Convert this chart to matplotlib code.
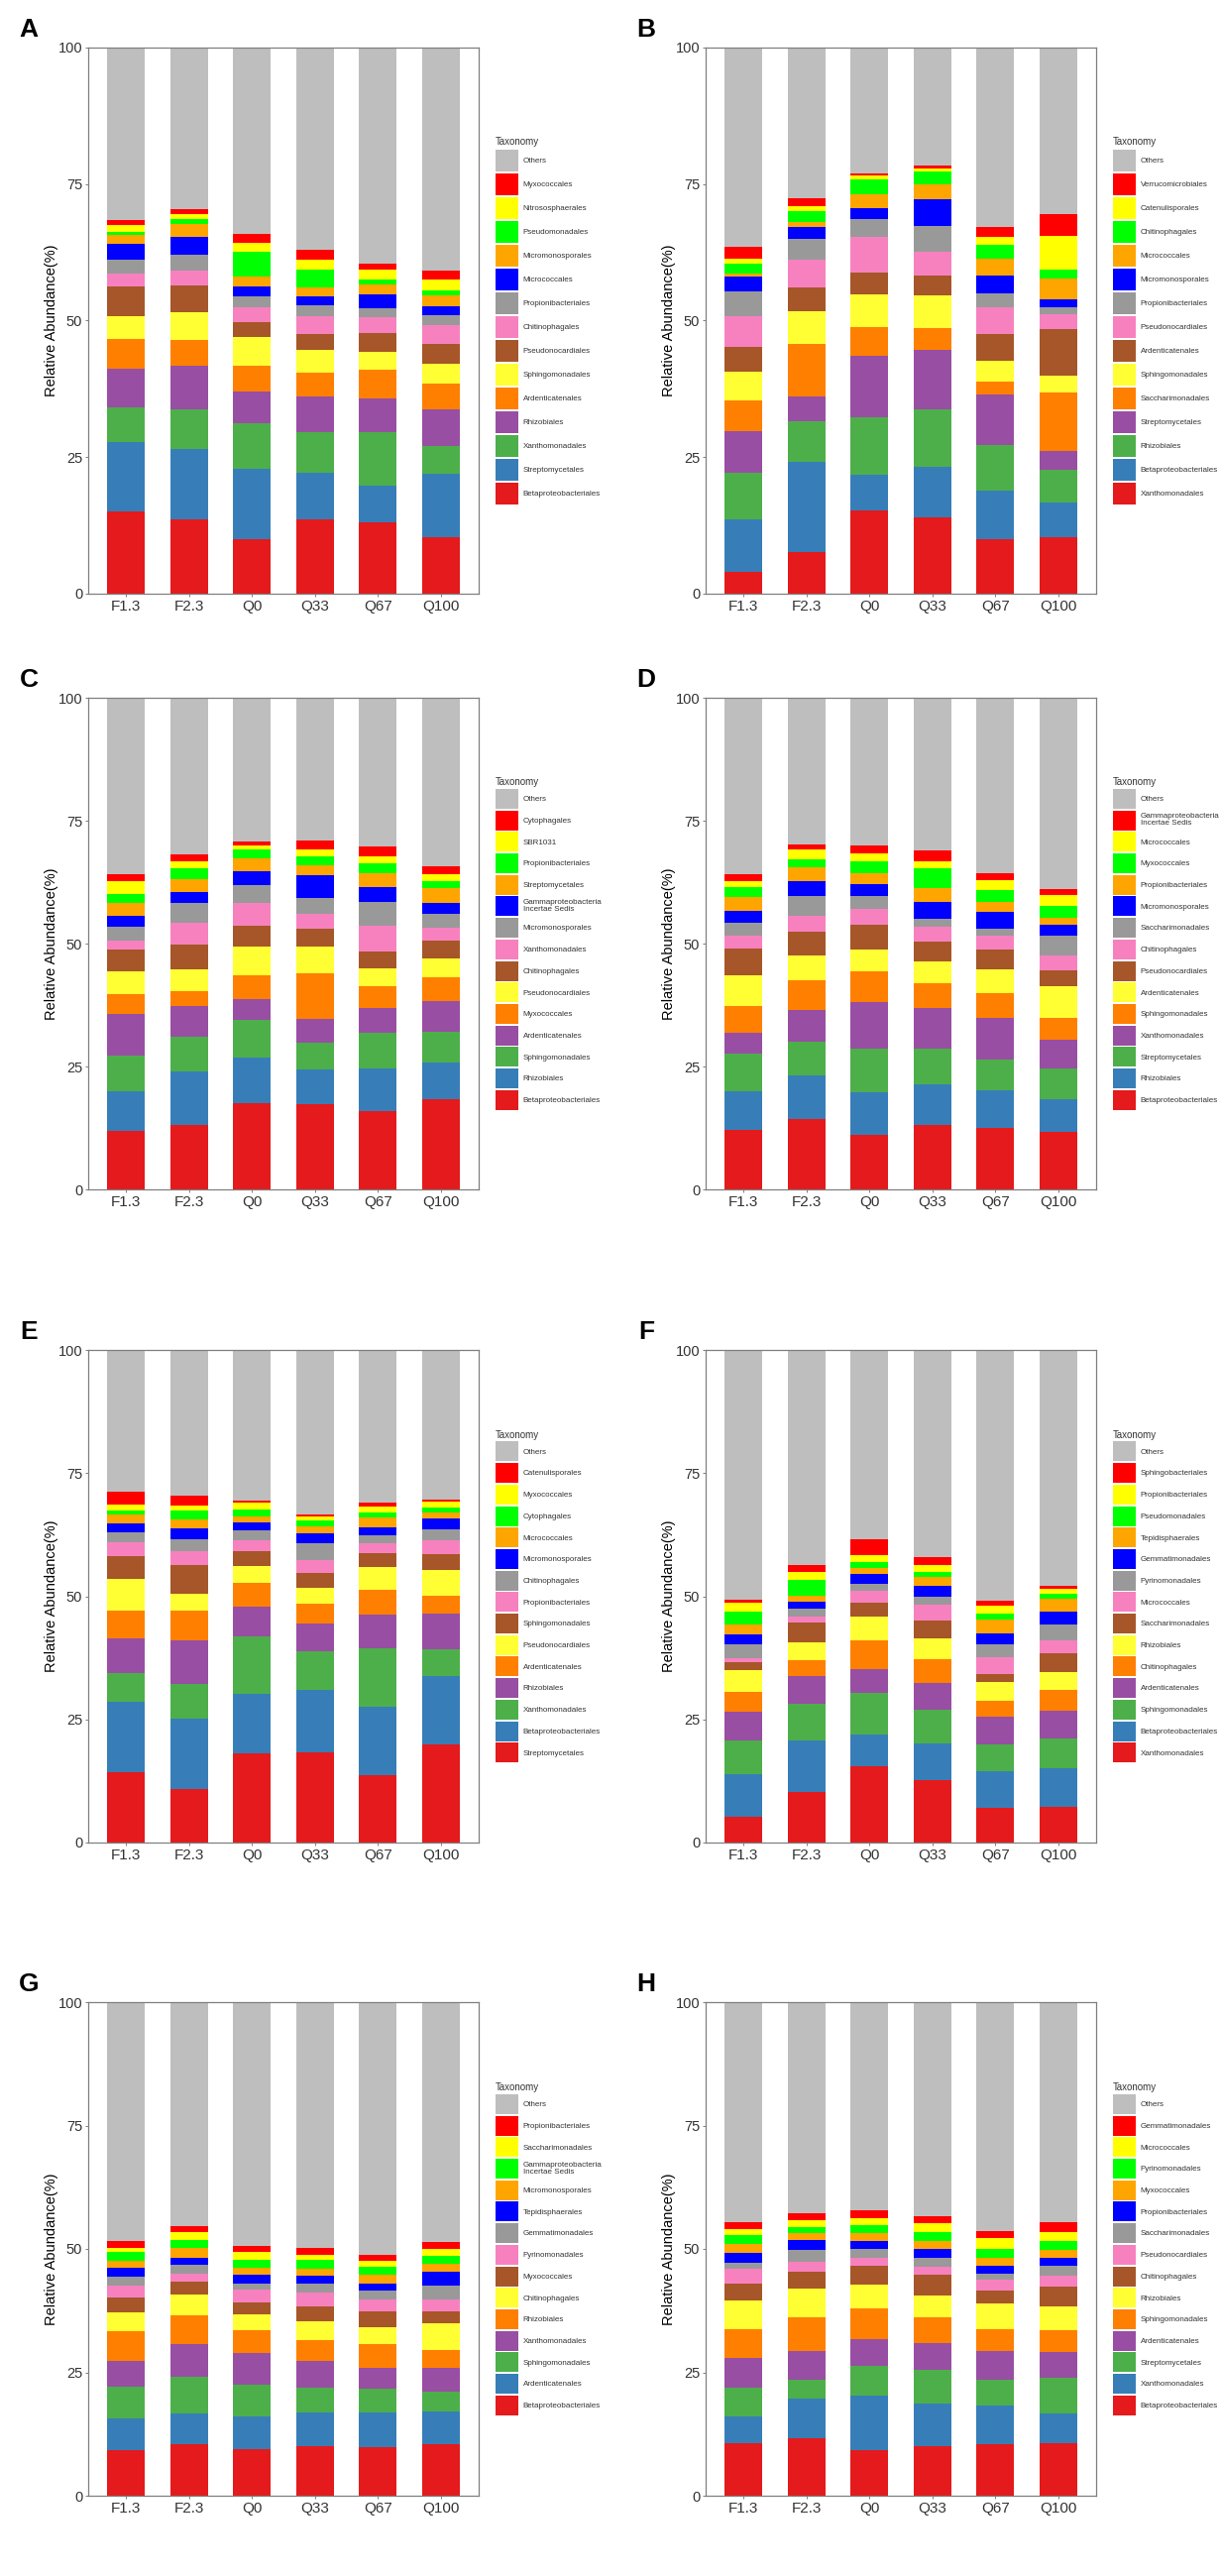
import matplotlib
matplotlib.use("Agg")
import matplotlib.pyplot as plt
from matplotlib.patches import Patch
import numpy as np

plt.rcParams['font.family'] = ['Liberation Sans', 'DejaVu Sans']

samples = ['F1.3', 'F2.3', 'Q0', 'Q33', 'Q67', 'Q100']

# colours of the stack, bottom to top; "Others" fills the rest
colors = ['#E41A1C', '#377EB8', '#4DAF4A', '#984EA3', '#FF7F00', '#FFFF33', '#A65628',
          '#F781BF', '#999999', '#0000FF', '#FFA500', '#00FF00', '#FFFF00', '#FF0000']
others_color = '#BEBEBE'

# ---- panel A (taxa bottom -> top, one row of values per sample)
A_taxa = ['Betaproteobacteriales', 'Streptomycetales', 'Xanthomonadales', 'Rhizobiales',
          'Ardenticatenales', 'Sphingomonadales', 'Pseudonocardiales', 'Chitinophagales',
          'Propionibacteriales', 'Micrococcales', 'Micromonosporales', 'Pseudomonadales',
          'Nitrososphaerales', 'Myxococcales']
A_vals = [[15.1, 12.6, 6.5, 7.0, 5.5, 4.2, 5.4, 2.3, 2.6, 2.8, 1.7, 0.6, 1.2, 0.9],
          [13.6, 12.9, 7.2, 8.1, 4.7, 5.0, 5.0, 2.6, 3.0, 3.2, 2.4, 0.9, 1.0, 0.8],
          [9.9, 12.9, 8.5, 5.7, 4.8, 5.2, 2.7, 2.7, 2.0, 1.8, 1.8, 4.6, 1.7, 1.5],
          [13.6, 8.6, 7.4, 6.6, 4.3, 4.2, 2.9, 3.2, 2.0, 1.6, 1.6, 3.4, 1.7, 1.8],
          [13.1, 6.6, 9.9, 6.1, 5.3, 3.3, 3.4, 2.9, 1.7, 2.5, 1.8, 1.0, 1.7, 1.2],
          [10.3, 11.7, 5.0, 6.8, 4.7, 3.6, 3.7, 3.4, 1.8, 1.7, 2.0, 0.8, 2.1, 1.6]]

# ---- panel B
B_taxa = ['Xanthomonadales', 'Betaproteobacteriales', 'Rhizobiales', 'Streptomycetales',
          'Saccharimonadales', 'Sphingomonadales', 'Ardenticatenales', 'Pseudonocardiales',
          'Propionibacteriales', 'Micromonosporales', 'Micrococcales', 'Chitinophagales',
          'Catenulisporales', 'Verrucomicrobiales']
B_vals = [[4.0, 9.6, 8.6, 7.5, 5.7, 5.2, 4.5, 5.8, 4.4, 2.7, 0.7, 1.8, 0.8, 2.3],
          [7.7, 16.4, 7.4, 4.7, 9.5, 6.1, 4.2, 5.2, 3.8, 2.2, 0.9, 1.9, 1.0, 1.4],
          [15.2, 6.5, 10.6, 11.2, 5.4, 6.0, 3.9, 6.5, 3.3, 2.0, 2.6, 2.6, 0.8, 0.3],
          [13.9, 9.4, 10.5, 10.9, 3.9, 6.1, 3.6, 4.3, 4.8, 4.8, 2.7, 2.5, 0.5, 0.5],
          [10.0, 8.9, 8.3, 9.2, 2.5, 3.8, 4.8, 4.9, 2.6, 3.3, 3.1, 2.4, 1.5, 1.8],
          [10.4, 6.3, 6.0, 3.5, 10.6, 3.1, 8.5, 2.7, 1.4, 1.4, 3.8, 1.7, 6.1, 4.0]]

# ---- panel C
C_taxa = ['Betaproteobacteriales', 'Rhizobiales', 'Sphingomonadales', 'Ardenticatenales',
          'Myxococcales', 'Pseudonocardiales', 'Chitinophagales', 'Xanthomonadales',
          'Micromonosporales', 'Gammaproteobacteria\nIncertae Sedis', 'Streptomycetales',
          'Propionibacteriales', 'SBR1031', 'Cytophagales']
C_vals = [[11.8, 8.2, 7.2, 8.4, 4.1, 4.7, 4.3, 1.9, 2.9, 2.2, 2.5, 1.8, 2.7, 1.5],
          [13.2, 10.8, 7.0, 6.3, 3.1, 4.4, 4.9, 4.5, 4.1, 2.1, 2.8, 2.2, 1.3, 1.4],
          [17.5, 9.4, 7.6, 4.3, 4.7, 5.8, 4.4, 4.6, 3.5, 3.0, 2.5, 1.9, 0.8, 0.8],
          [17.3, 7.0, 5.6, 4.8, 9.3, 5.3, 3.7, 3.0, 3.2, 4.7, 2.0, 1.8, 1.5, 1.8],
          [16.0, 8.5, 7.4, 5.0, 4.4, 3.6, 3.4, 5.3, 4.9, 2.9, 3.0, 1.9, 1.4, 2.0],
          [18.4, 7.5, 6.2, 6.3, 4.7, 3.9, 3.6, 2.6, 2.9, 2.2, 2.9, 1.6, 1.4, 1.5]]

# ---- panel D
D_taxa = ['Betaproteobacteriales', 'Rhizobiales', 'Streptomycetales', 'Xanthomonadales',
          'Sphingomonadales', 'Ardenticatenales', 'Pseudonocardiales', 'Chitinophagales',
          'Saccharimonadales', 'Micromonosporales', 'Propionibacteriales', 'Myxococcales',
          'Micrococcales', 'Gammaproteobacteria\nIncertae Sedis']
D_vals = [[12.0, 8.0, 7.6, 4.2, 5.5, 6.2, 5.4, 2.7, 2.6, 2.5, 2.7, 2.0, 1.4, 1.4],
          [14.3, 8.8, 6.9, 6.4, 6.1, 5.1, 4.8, 3.2, 4.1, 3.0, 2.9, 1.5, 2.0, 1.1],
          [11.1, 8.6, 8.9, 9.6, 6.2, 4.4, 5.0, 3.2, 2.7, 2.3, 2.4, 2.3, 1.7, 1.6],
          [13.2, 8.2, 7.2, 8.2, 5.2, 4.3, 4.2, 2.9, 1.7, 3.3, 2.8, 4.1, 1.5, 2.1],
          [12.6, 7.6, 6.2, 8.5, 5.0, 4.9, 3.9, 2.9, 1.5, 3.4, 2.0, 2.3, 2.1, 1.5],
          [11.6, 6.7, 6.2, 5.9, 4.4, 6.5, 3.3, 2.9, 4.1, 2.2, 1.5, 2.3, 2.2, 1.2]]

# ---- panel E
E_taxa = ['Streptomycetales', 'Betaproteobacteriales', 'Xanthomonadales', 'Rhizobiales',
          'Ardenticatenales', 'Pseudonocardiales', 'Sphingomonadales', 'Propionibacteriales',
          'Chitinophagales', 'Micromonosporales', 'Micrococcales', 'Cytophagales',
          'Myxococcales', 'Catenulisporales']
E_vals = [[14.2, 14.4, 5.8, 7.0, 5.6, 6.6, 4.5, 2.8, 2.0, 1.9, 1.8, 0.9, 1.1, 2.6],
          [10.9, 14.3, 6.9, 9.0, 5.9, 3.6, 5.8, 2.8, 2.3, 2.3, 1.7, 1.9, 1.0, 2.1],
          [18.2, 12.0, 11.7, 5.9, 4.9, 3.5, 3.0, 2.1, 2.0, 1.6, 1.3, 1.5, 1.4, 0.4],
          [18.4, 12.6, 7.9, 5.6, 3.9, 3.3, 3.1, 2.6, 3.4, 1.9, 1.4, 1.2, 0.9, 0.4],
          [13.7, 13.9, 11.9, 6.7, 5.1, 4.7, 2.8, 1.9, 1.7, 1.6, 2.0, 1.1, 1.1, 0.9],
          [20.0, 13.8, 5.5, 7.1, 3.7, 5.3, 3.1, 2.8, 2.3, 2.1, 1.3, 1.1, 1.2, 0.4]]

# ---- panel F
F_taxa = ['Xanthomonadales', 'Betaproteobacteriales', 'Sphingomonadales', 'Ardenticatenales',
          'Chitinophagales', 'Rhizobiales', 'Saccharimonadales', 'Micrococcales',
          'Pyrinomonadales', 'Gemmatimonadales', 'Tepidisphaerales', 'Pseudomonadales',
          'Propionibacteriales', 'Sphingobacteriales']
F_vals = [[5.2, 8.6, 6.9, 5.9, 3.9, 4.5, 1.7, 0.8, 2.8, 1.9, 2.0, 2.6, 1.9, 0.6],
          [10.2, 10.5, 7.4, 5.7, 3.2, 3.7, 3.9, 1.2, 1.6, 1.5, 1.3, 3.1, 1.7, 1.4],
          [15.4, 6.6, 8.3, 5.0, 5.7, 4.8, 2.8, 2.5, 1.5, 1.9, 1.3, 1.1, 1.4, 3.3],
          [12.7, 7.4, 6.8, 5.4, 5.0, 4.1, 3.6, 3.3, 1.6, 2.2, 1.9, 1.0, 1.4, 1.5],
          [7.0, 7.5, 5.4, 5.7, 3.1, 3.8, 1.8, 3.4, 2.6, 2.2, 2.7, 1.2, 1.6, 1.0],
          [7.3, 7.7, 6.1, 5.7, 4.2, 3.7, 3.8, 2.6, 3.1, 2.6, 2.6, 1.1, 1.0, 0.6]]

# ---- panel G
G_taxa = ['Betaproteobacteriales', 'Ardenticatenales', 'Sphingomonadales', 'Xanthomonadales',
          'Rhizobiales', 'Chitinophagales', 'Myxococcales', 'Pyrinomonadales',
          'Gemmatimonadales', 'Tepidisphaerales', 'Micromonosporales',
          'Gammaproteobacteria\nIncertae Sedis', 'Saccharimonadales', 'Propionibacteriales']
G_vals = [[9.2, 6.5, 6.4, 5.2, 6.0, 3.8, 3.0, 2.4, 1.8, 1.8, 1.5, 1.8, 0.8, 1.4],
          [10.5, 6.2, 7.4, 6.6, 5.8, 4.3, 2.6, 1.6, 1.8, 1.4, 2.0, 1.6, 1.7, 1.2],
          [9.4, 6.6, 6.5, 6.5, 4.5, 3.2, 2.4, 2.6, 1.3, 1.8, 1.4, 1.5, 1.6, 1.3],
          [10.0, 6.8, 5.1, 5.4, 4.3, 3.7, 3.1, 2.7, 1.8, 1.6, 1.4, 1.8, 1.1, 1.4],
          [9.8, 7.0, 4.8, 4.4, 4.8, 3.3, 3.2, 2.5, 1.7, 1.4, 1.9, 1.6, 1.2, 1.2],
          [10.5, 6.6, 3.9, 4.9, 3.6, 5.5, 2.4, 2.4, 2.7, 2.9, 1.6, 1.6, 1.5, 1.3]]

# ---- panel H
H_taxa = ['Betaproteobacteriales', 'Xanthomonadales', 'Streptomycetales', 'Ardenticatenales',
          'Sphingomonadales', 'Rhizobiales', 'Chitinophagales', 'Pseudonocardiales',
          'Saccharimonadales', 'Propionibacteriales', 'Myxococcales', 'Pyrinomonadales',
          'Micrococcales', 'Gemmatimonadales']
H_vals = [[10.7, 5.4, 5.7, 6.1, 5.9, 5.8, 3.3, 3.0, 1.2, 2.0, 1.9, 1.8, 1.2, 1.5],
          [11.7, 8.0, 3.7, 6.0, 6.8, 5.8, 3.4, 1.9, 2.4, 2.1, 1.5, 1.2, 1.3, 1.5],
          [9.2, 11.1, 6.0, 5.4, 6.2, 4.9, 3.8, 1.6, 1.8, 1.6, 1.6, 1.6, 1.5, 1.5],
          [10.1, 8.6, 6.9, 5.3, 5.2, 4.5, 4.1, 1.7, 1.8, 1.8, 1.7, 1.7, 1.8, 1.5],
          [10.4, 7.9, 5.2, 5.9, 4.4, 5.1, 2.7, 2.2, 1.1, 1.7, 1.6, 1.9, 2.1, 1.5],
          [10.7, 5.9, 7.2, 5.4, 4.3, 4.9, 3.9, 2.3, 2.0, 1.6, 1.5, 2.0, 1.7, 2.1]]

# layout in pixels: letter, taxa, values, left, top, height
W, H = 1231, 2599
AX_W = 394
panels = [('A', A_taxa, A_vals, 89, 48, 551),
          ('B', B_taxa, B_vals, 712, 48, 551),
          ('C', C_taxa, C_vals, 89, 704, 496),
          ('D', D_taxa, D_vals, 712, 704, 496),
          ('E', E_taxa, E_vals, 89, 1362, 497),
          ('F', F_taxa, F_vals, 712, 1362, 497),
          ('G', G_taxa, G_vals, 89, 2020, 498),
          ('H', H_taxa, H_vals, 712, 2020, 498)]

fig = plt.figure(figsize=(W / 100, H / 100), dpi=100)

spine_col = '#7F7F7F'
txt_col = '#333333'
leg_fs = 5.8

for letter, taxa, vals, left, top, height in panels:
    ax = fig.add_axes([left / W, 1 - (top + height) / H, AX_W / W, height / H])
    vals = np.array(vals)
    x = np.arange(1, len(samples) + 1)
    bottom = np.zeros(len(samples))
    for i, name in enumerate(taxa):
        ax.bar(x, vals[:, i], width=0.6, bottom=bottom, color=colors[i], linewidth=0)
        bottom += vals[:, i]
    ax.bar(x, 100 - bottom, width=0.6, bottom=bottom, color=others_color, linewidth=0)

    ax.set_xlim(0.4, 6.6)
    ax.set_ylim(0, 100)
    ax.set_xticks(x)
    ax.set_xticklabels(samples, fontsize=11, color=txt_col)
    ax.set_yticks([0, 25, 50, 75, 100])
    ax.set_yticklabels(['0', '25', '50', '75', '100'], fontsize=10.5, color=txt_col)
    ax.tick_params(length=2.2, width=0.7, color=spine_col, pad=2)
    for s in ax.spines.values():
        s.set_color(spine_col)
        s.set_linewidth(0.9)
    ax.set_ylabel('Relative Abundance(%)', fontsize=10.5)
    ax.yaxis.set_label_coords(-30 / AX_W, 0.5)

    fig.text((left - 60) / W, 1 - (top - 18) / H, letter, fontsize=19,
             fontweight='bold', ha='center', va='center')

    # legend: Others first, then the stack from top to bottom
    handles = [Patch(facecolor=others_color, edgecolor='none', label='Others')]
    for i in range(len(taxa) - 1, -1, -1):
        handles.append(Patch(facecolor=colors[i], edgecolor='none', label=taxa[i]))
    # key box of 22 px (top row) or 20 px (other rows)
    key_pt = (22 if height > 520 else 20) * 0.72
    hh = (key_pt / leg_fs - 0.245) / 0.65
    ls = (2.0 if height > 520 else 1.7) * 0.72 / leg_fs
    leg = ax.legend(handles=handles, loc='center left', bbox_to_anchor=(1 + 17 / AX_W, 0.5),
                    frameon=False, fontsize=leg_fs, title='Taxonomy', title_fontsize=7,
                    alignment='left', handlelength=23 * 0.72 / leg_fs, handleheight=hh,
                    labelspacing=ls, handletextpad=0.6, borderpad=0, borderaxespad=0)
    for t in leg.get_texts():
        t.set_color(txt_col)
        t.set_linespacing(1.0)
    leg.get_title().set_color(txt_col)

fig.savefig('out.png', dpi=100)
